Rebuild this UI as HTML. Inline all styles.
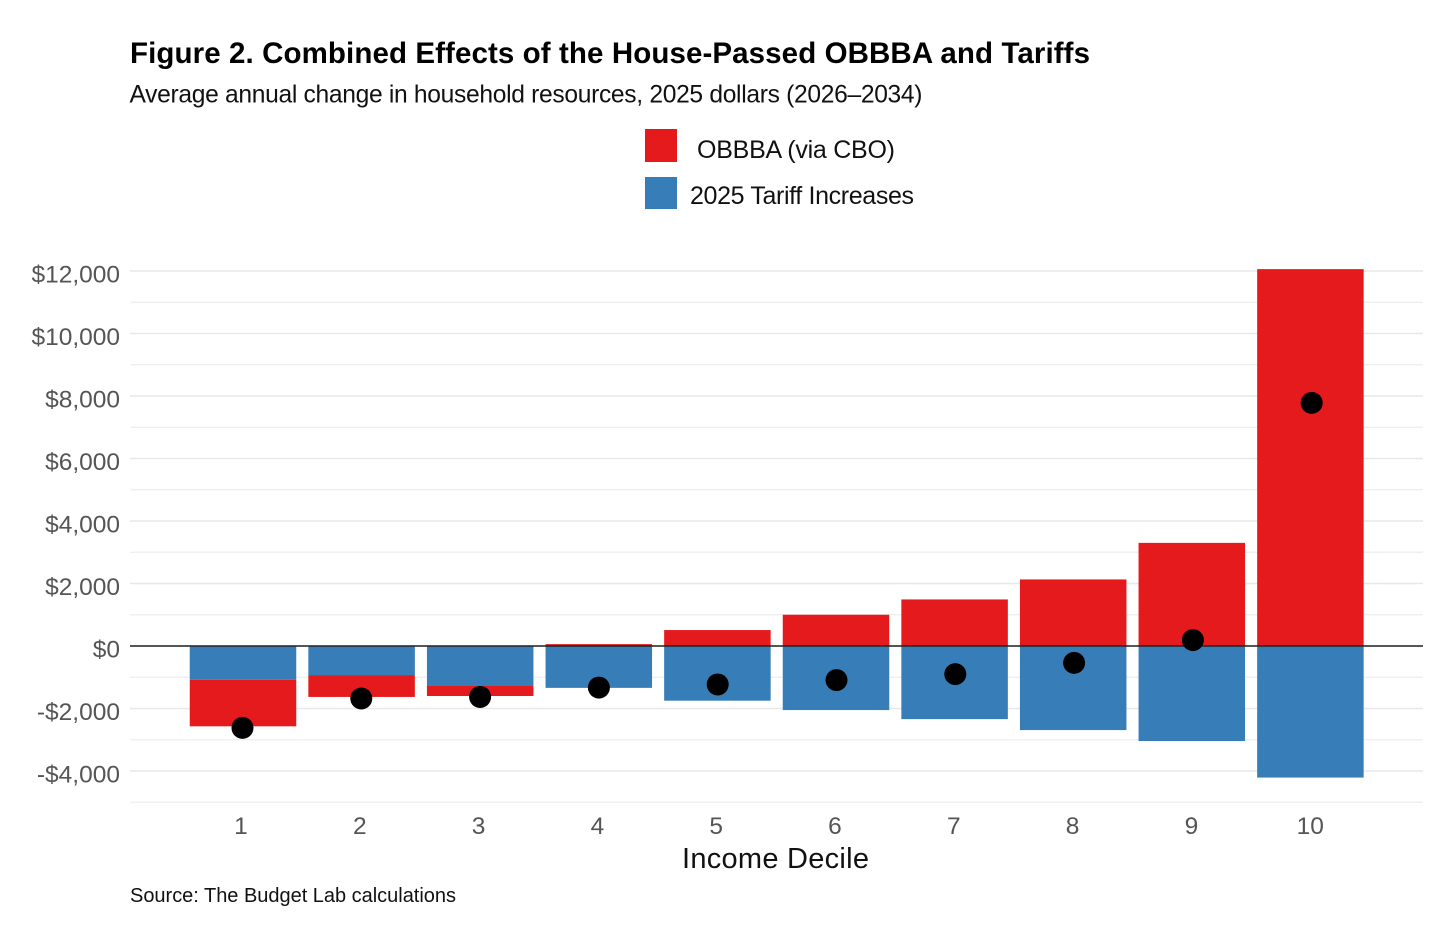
<!DOCTYPE html>
<html lang="en">
<head>
<meta charset="utf-8">
<title>Figure 2. Combined Effects of the House-Passed OBBBA and Tariffs</title>
<style>
html,body{margin:0;padding:0;background:#fff;}
svg{display:block;font-family:"Liberation Sans",Arial,sans-serif;}
</style>
</head>
<body>
<svg id="chart" width="1456" height="942" viewBox="0 0 1456 942" xmlns="http://www.w3.org/2000/svg">
  <rect x="0" y="0" width="1456" height="942" fill="#ffffff"/>
  <text x="130" y="63" font-size="29.5" font-weight="700" fill="#000" textLength="960" lengthAdjust="spacing">Figure 2. Combined Effects of the House-Passed OBBBA and Tariffs</text>
  <text x="129.5" y="102.5" font-size="24.6" fill="#111" textLength="793" lengthAdjust="spacing">Average annual change in household resources, 2025 dollars (2026–2034)</text>
  <g>
    <rect x="645" y="129" width="32" height="33" fill="#E41A1C"/>
    <text x="697" y="158" font-size="25" fill="#111" textLength="198" lengthAdjust="spacing">OBBBA (via CBO)</text>
    <rect x="645" y="177" width="32" height="32" fill="#377EB8"/>
    <text x="690" y="204" font-size="25" fill="#111" textLength="224" lengthAdjust="spacing">2025 Tariff Increases</text>
  </g>
  <g id="grid"></g>
  <g id="bars"></g>
  <line x1="130" x2="1423" y1="646" y2="646" stroke="#222" stroke-width="1.6"/>
  <g id="dots"></g>
  <g id="ylabels"></g>
  <g id="xlabels"></g>
  <text x="682" y="868" font-size="29" fill="#111" textLength="187" lengthAdjust="spacing">Income Decile</text>
  <text x="130" y="902" font-size="20" fill="#111" textLength="326" lengthAdjust="spacing">Source: The Budget Lab calculations</text>
</svg>
<script>
const deciles = ["1","2","3","4","5","6","7","8","9","10"];
const obbbaValues = [-1490,-700,-320,60,510,1000,1490,2130,3300,12060];
const tariffValues = [-1080,-930,-1280,-1340,-1750,-2050,-2340,-2690,-3040,-4210];
const netValues = [-2620,-1680,-1630,-1330,-1230,-1090,-900,-540,190,7780];
const yMajorTicks = [-4000,-2000,0,2000,4000,6000,8000,10000,12000];
const yMinorTicks = [-5000,-3000,-1000,1000,3000,5000,7000,9000,11000];
const yTickLabels = ["-$4,000","-$2,000","$0","$2,000","$4,000","$6,000","$8,000","$10,000","$12,000"];

const NS = "http://www.w3.org/2000/svg";
function yScale(v){ return 646 - v * 0.03125; }
function xScale(i){ return 243 + i * 118.6; }
function xDot(i){ return 242.5 + i * 118.8; }
function xLabel(i){ return 241 + i * 118.8; }
const barWidth = 106.5;
function mk(parent, tag, attrs){
  const el = document.createElementNS(NS, tag);
  for (const k in attrs) el.setAttribute(k, attrs[k]);
  parent.appendChild(el);
  return el;
}
const grid = document.getElementById("grid");
const bars = document.getElementById("bars");
const dots = document.getElementById("dots");
const ylabels = document.getElementById("ylabels");
const xlabels = document.getElementById("xlabels");

yMinorTicks.forEach(function(v){
  const l = mk(grid, "line", {x1:130, x2:1423, y1:yScale(v), y2:yScale(v), stroke:"#ededed", "stroke-width":1.2});
  
  
});
yMajorTicks.forEach(function(v, i){
  const l = mk(grid, "line", {x1:130, x2:1423, y1:yScale(v), y2:yScale(v), stroke:"#e8e8e8", "stroke-width":1.6});
  
  
  const t = mk(ylabels, "text", {x:120, y:yScale(v) + 11.5, "font-size":24.5, fill:"#555555", "text-anchor":"end"});
  t.textContent = yTickLabels[i];
  
  
});

function drawBar(i, top, bottom, color, name){
  const r = mk(bars, "rect", {x:xScale(i) - barWidth/2, y:yScale(top), width:barWidth, height:yScale(bottom) - yScale(top), fill:color});
  
  
}
deciles.forEach(function(d, i){
  const tariff = tariffValues[i];
  const obbba = obbbaValues[i];
  drawBar(i, 0, tariff, "#377EB8", "bar-tariff-decile-" + d);
  if (obbba >= 0) {
    drawBar(i, obbba, 0, "#E41A1C", "bar-obbba-decile-" + d);
  } else {
    drawBar(i, tariff, tariff + obbba, "#E41A1C", "bar-obbba-decile-" + d);
  }
  const c = mk(dots, "circle", {cx:xDot(i), cy:yScale(netValues[i]), r:11, fill:"#000"});
  
  
  const t = mk(xlabels, "text", {x:xLabel(i), y:834, "font-size":24.5, fill:"#555555", "text-anchor":"middle"});
  t.textContent = d;
  
  
});
</script>
</body>
</html>
